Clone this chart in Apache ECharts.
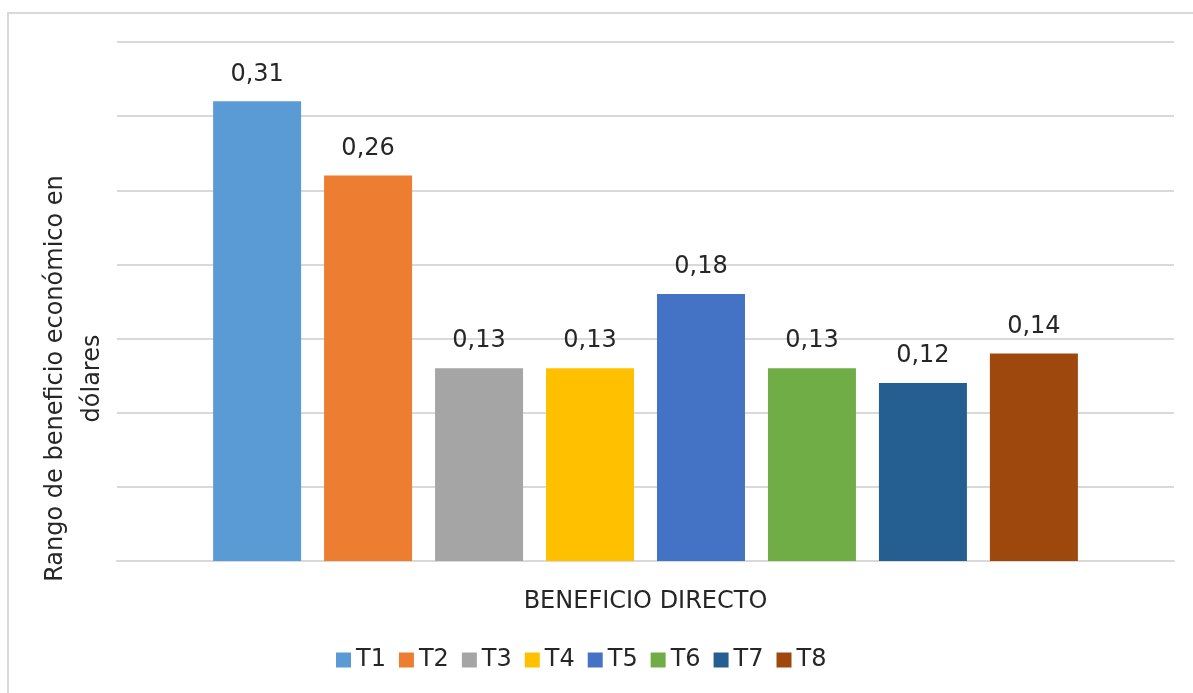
<!DOCTYPE html>
<html>
<head>
<meta charset="utf-8">
<script src="https://cdn.jsdelivr.net/npm/echarts@6/dist/echarts.min.js"></script>
<style>
html,body{margin:0;padding:0;background:#fff;}
#main{width:1193px;height:693px;}
</style>
</head>
<body>
<div id="main"></div>
<script>
const categories = ['BENEFICIO DIRECTO'];
const seriesNames = ['T1','T2','T3','T4','T5','T6','T7','T8'];
const seriesValues = [0.31, 0.26, 0.13, 0.13, 0.18, 0.13, 0.12, 0.14];
const seriesColors = ['#5B9BD5','#ED7D31','#A5A5A5','#FFC000','#4472C4','#70AD47','#255E91','#9E480E'];
const yAxisTitle = 'Rango de beneficio económico en\ndólares';

const FONT = 'DejaVu Sans';
const chart = echarts.init(document.getElementById('main'));
const series = seriesNames.map((n, i) => ({
  name: n,
  type: 'bar',
  data: [seriesValues[i]],
  barWidth: 88,
  barGap: '26.1%',
  itemStyle: { color: seriesColors[i] },
  label: {
    show: true, position: 'top', distance: 15,
    fontFamily: FONT, fontSize: 24, color: '#262626',
    formatter: p => p.value.toFixed(2).replace('.', ',')
  }
}));
chart.setOption({
  animation: false,
  textStyle: { fontFamily: FONT },
  graphic: [{
    type: 'rect', shape: { x: 8, y: 13, width: 1200, height: 700 },
    style: { fill: 'none', stroke: '#d9d9d9', lineWidth: 2 }, silent: true, z: -1
  }],
  grid: { left: 117, right: 19, top: 42, bottom: 132, containLabel: false, outerBoundsMode: 'none' },
  legend: {
    data: seriesNames, left: 331, top: 643, icon: 'rect',
    itemWidth: 15, itemHeight: 15, itemGap: 13,
    textStyle: { fontFamily: FONT, fontSize: 24, color: '#262626' }
  },
  xAxis: {
    type: 'category', data: categories,
    axisTick: { show: false },
    axisLine: { lineStyle: { color: '#d9d9d9', width: 2 } },
    axisLabel: { fontFamily: FONT, fontSize: 24, color: '#262626', margin: 29 }
  },
  yAxis: {
    type: 'value', min: 0, max: 0.35, interval: 0.05,
    axisLabel: { show: false }, axisLine: { show: false }, axisTick: { show: false },
    splitLine: { lineStyle: { color: '#d9d9d9', width: 2 } },
    name: yAxisTitle, nameLocation: 'middle', nameGap: 6,
    nameTextStyle: { fontFamily: FONT, fontSize: 24, color: '#262626', lineHeight: 37, padding: [0, 154, 0, 0] }
  },
  series: series
});
</script>
</body>
</html>
